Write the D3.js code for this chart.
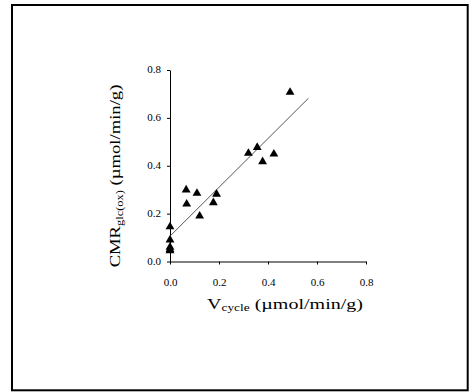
<!DOCTYPE html>
<html>
<head>
<meta charset="utf-8">
<script src="https://cdn.jsdelivr.net/npm/d3@7"></script>
<style>
  html, body { margin: 0; padding: 0; background: #fff; }
  svg { display: block; }
  text { font-family: "Liberation Serif", "Times New Roman", serif; fill: #000; }
</style>
</head>
<body>
<svg id="chart" width="469" height="392"></svg>
<script>
// Data
const vcycle = [0.49, 0.32, 0.356, 0.378, 0.424, 0.066, 0.068, 0.11, 0.121, 0.177, 0.19, 0.0, 0.0, 0.0, 0.0, 0.0];
const cmrglc = [0.707, 0.452, 0.477, 0.417, 0.449, 0.299, 0.240, 0.285, 0.190, 0.246, 0.281, 0.145, 0.090, 0.060, 0.050, 0.045];
const fitX = [0.0, 0.565];
const fitY = [0.106, 0.682];
const xTicks = [0.0, 0.2, 0.4, 0.6, 0.8];
const yTicks = [0.0, 0.2, 0.4, 0.6, 0.8];

const svg = d3.select("#chart");

// Frame
svg.append("rect")
  .attr("x", 12).attr("y", 5).attr("width", 455.7).attr("height", 385.3)
  .attr("fill", "none").attr("stroke", "#000").attr("stroke-width", 2);

const x = d3.scaleLinear().domain([0, 0.8]).range([170, 366]);
const y = d3.scaleLinear().domain([0, 0.8]).range([261.5, 70]);

const xAxis = d3.axisBottom(x).tickValues(xTicks).tickFormat(d3.format(".1f"))
  .tickSize(3).tickSizeOuter(0).tickPadding(14);
const yAxis = d3.axisLeft(y).tickValues(yTicks).tickFormat(d3.format(".1f"))
  .tickSize(3).tickSizeOuter(0).tickPadding(6);

const gx = svg.append("g").attr("transform", `translate(0,${y(0)})`).call(xAxis);
const gy = svg.append("g").attr("transform", `translate(${x(0)},0)`).call(yAxis);

[gx, gy].forEach(g => {
  g.selectAll("path.domain").attr("stroke", "#000").attr("stroke-width", 1);
  g.selectAll(".tick line").attr("stroke", "#000").attr("stroke-width", 1);
  g.selectAll(".tick text")
    .attr("font-family", "Liberation Serif, Times New Roman, serif")
    .attr("font-size", 11).attr("fill", "#000");
});
gy.selectAll(".tick text").attr("dy", "0.25em");

// Regression line
svg.append("line")
  .attr("x1", x(fitX[0])).attr("y1", y(fitY[0]))
  .attr("x2", x(fitX[1])).attr("y2", y(fitY[1]))
  .attr("stroke", "#555").attr("stroke-width", 1);

// Triangles
const tri = d3.symbol().type(d3.symbolTriangle).size(34);
svg.append("g").selectAll("path")
  .data(vcycle.map((v, i) => [v, cmrglc[i]]))
  .join("path")
  .attr("d", tri)
  .attr("transform", d => `translate(${x(d[0])},${y(d[1])})`)
  .attr("fill", "#000");

// X axis title (stretched along its length to the reference's wide type)
const xg = svg.append("g");
const xt = xg.append("text")
  .attr("text-anchor", "middle")
  .attr("font-size", 15);
xt.append("tspan").text("V");
xt.append("tspan").attr("font-size", 10).attr("dy", 2).text("cycle");
xt.append("tspan").attr("dy", -2).text(" (\u00B5mol/min/g)");
const xw = xt.node().getComputedTextLength ? xt.node().getBBox().width : 122;
xg.attr("transform", `translate(285,309) scale(${156 / xw},1)`);

// Y axis title
const yg = svg.append("g");
const yt = yg.append("text")
  .attr("text-anchor", "middle")
  .attr("font-size", 15);
yt.append("tspan").text("CMR");
yt.append("tspan").attr("font-size", 10).attr("dy", 3).text("glc(ox)");
yt.append("tspan").attr("dy", -3).text(" (\u00B5mol/min/g)");
const yw = yt.node().getBBox().width;
yg.attr("transform", `translate(120,176) rotate(-90) scale(${183 / yw},1)`);
</script>
</body>
</html>
